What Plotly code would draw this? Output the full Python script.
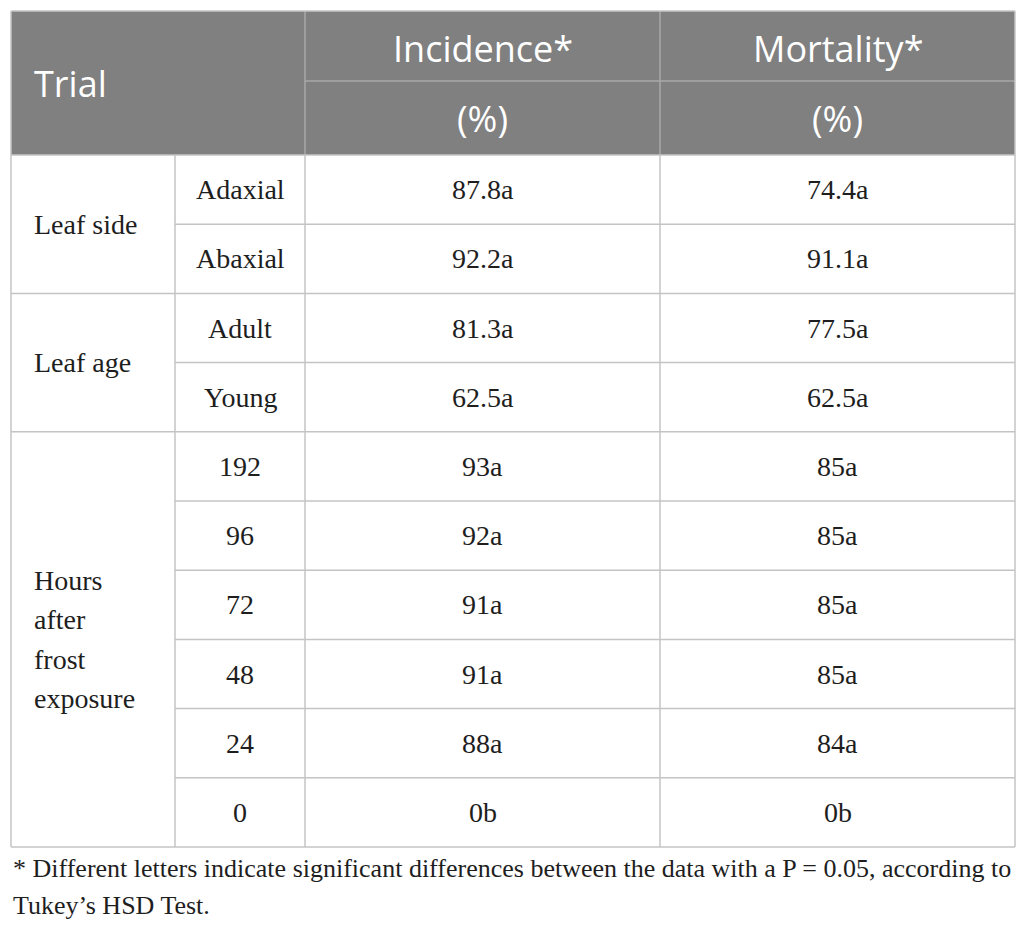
import plotly.graph_objects as go

# table content
groups = ["Leaf side", "Leaf age", "Hours after frost exposure"]
group_lines = [["Leaf side"], ["Leaf age"], ["Hours", "after", "frost", "exposure"]]
group_sizes = [2, 2, 6]
levels = ["Adaxial", "Abaxial", "Adult", "Young", "192", "96", "72", "48", "24", "0"]
incidence = [87.8, 92.2, 81.3, 62.5, 93, 92, 91, 91, 88, 0]
incidence_letters = ["a", "a", "a", "a", "a", "a", "a", "a", "a", "b"]
mortality = [74.4, 91.1, 77.5, 62.5, 85, 85, 85, 85, 84, 0]
mortality_letters = ["a", "a", "a", "a", "a", "a", "a", "a", "a", "b"]
header_top = ["Incidence*", "Mortality*"]
header_sub = ["(%)", "(%)"]
footnote = ["* Different letters indicate significant differences between the data with a P = 0.05, according to",
            "Tukey\u2019s HSD Test."]

# page is drawn with an 8px body margin, so the axes start at 8
OFF = 8
W, H = 1026 - 2 * OFF, 936 - 2 * OFF
col_x = [11, 175, 305, 660, 1015]
top, head_mid, head_bot, bottom = 11, 81, 155, 847
row_h = (bottom - head_bot) / len(levels)
line_col = "#c4c4c4"
head_bg = "#808080"
serif = "Liberation Serif"
sans = "Open Sans"

fig = go.Figure()
shapes = []
ann = []

def line(x0, y0, x1, y1, color=line_col, w=1.5):
    shapes.append(dict(type="line", xref="x", yref="y", x0=x0, y0=y0, x1=x1, y1=y1,
                       line=dict(color=color, width=w)))

def text(x, y, s, size=28, font=serif, color="#1e1e1e", anchor="center"):
    ann.append(dict(x=x, y=y, xref="x", yref="y", text=s, showarrow=False,
                    xanchor=anchor, yanchor="middle",
                    font=dict(family=font, size=size, color=color)))

# header block
shapes.append(dict(type="rect", xref="x", yref="y", x0=col_x[0], x1=col_x[-1], y0=top, y1=head_bot,
                   fillcolor=head_bg, line=dict(width=0), layer="below"))
line(col_x[2], head_mid, col_x[-1], head_mid, color="#a8a8a8")
for x in col_x[2:4]:
    line(x, top, x, head_bot, color="#a8a8a8")
text(32, (top + head_bot) / 2, "Trial", size=36, font=sans, color="white", anchor="left")
for i in range(2):
    cx = (col_x[2 + i] + col_x[3 + i]) / 2
    text(cx, (top + head_mid) / 2 + 2, header_top[i], size=36, font=sans, color="white")
    text(cx, (head_mid + head_bot) / 2, header_sub[i], size=36, font=sans, color="white")

# body rows
row_y = [head_bot + row_h * (i + 0.5) for i in range(len(levels))]
for i, lv in enumerate(levels):
    text((col_x[1] + col_x[2]) / 2, row_y[i], lv)
    text((col_x[2] + col_x[3]) / 2, row_y[i], f"{incidence[i]:g}{incidence_letters[i]}")
    text((col_x[3] + col_x[4]) / 2, row_y[i], f"{mortality[i]:g}{mortality_letters[i]}")

# row lines
start = 0
for g, n in enumerate(group_sizes):
    y0 = head_bot + row_h * start
    y1 = head_bot + row_h * (start + n)
    line(col_x[0], y1, col_x[-1], y1)
    for k in range(1, n):
        yk = head_bot + row_h * (start + k)
        line(col_x[1], yk, col_x[-1], yk)
    gl = group_lines[g]
    mid = (y0 + y1) / 2
    sp = 39.5
    for j, s in enumerate(gl):
        text(32, mid + (j - (len(gl) - 1) / 2) * sp, s, anchor="left")
    start += n

# vertical lines
line(col_x[0], top, col_x[0], bottom)
line(col_x[-1], top, col_x[-1], bottom)
for x in col_x[1:4]:
    line(x, head_bot, x, bottom)
line(col_x[0], top, col_x[-1], top)
line(col_x[0], head_bot, col_x[-1], head_bot)

# footnote
text(11, 868, footnote[0], size=26, anchor="left")
text(11, 905, footnote[1], size=26, anchor="left")

fig.update_layout(
    width=W, height=H,
    margin=dict(l=0, r=0, t=0, b=0),
    paper_bgcolor="white", plot_bgcolor="white",
    xaxis=dict(range=[OFF, OFF + W], visible=False, fixedrange=True),
    yaxis=dict(range=[OFF + H, OFF], visible=False, fixedrange=True),
    shapes=shapes, annotations=ann, showlegend=False,
)

fig.write_html("out.html")
